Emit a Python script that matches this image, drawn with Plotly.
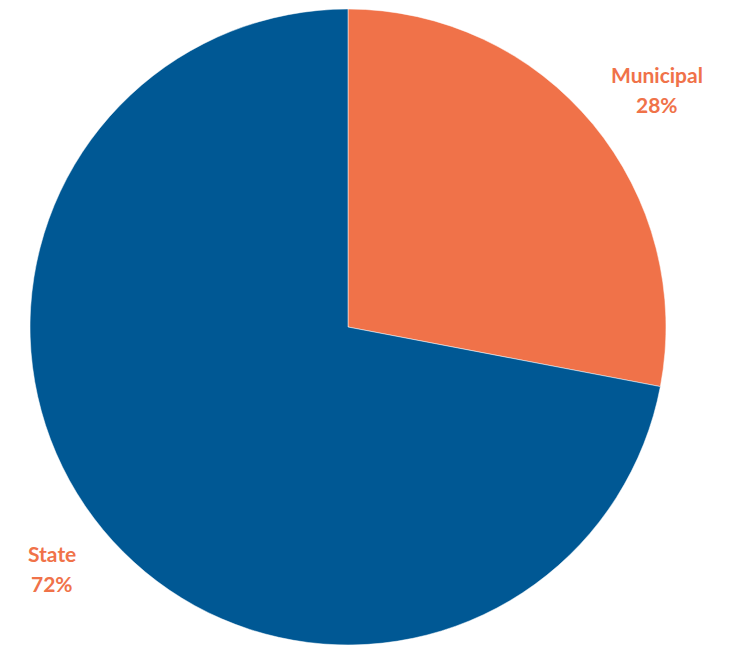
import plotly.graph_objects as go

labels = ["Municipal", "State"]
values = [28, 72]
colors = ["#F07249", "#005894"]

W, H = 746, 647
cx, cy, r = 348, 327, 318

fig = go.Figure(go.Pie(
    labels=labels, values=values, sort=False, direction="clockwise", rotation=0,
    marker=dict(colors=colors, line=dict(color="white", width=0.5)),
    textinfo="none", hoverinfo="label+percent", showlegend=False,
    domain=dict(x=[(cx - r) / W, (cx + r) / W], y=[(H - cy - r) / H, (H - cy + r) / H]),
))

label_pos = [(657, 74), (52, 553)]
for lab, val, (x, y) in zip(labels, values, label_pos):
    for i, t in enumerate([lab, f"{val}%"]):
        fig.add_annotation(
            x=x / W, y=1 - (y + 30 * i) / H, xref="paper", yref="paper",
            xanchor="center", yanchor="middle",
            text=f"<b>{t}</b>", showarrow=False,
            font=dict(family="Lato", size=21, color="#F07249"),
        )

fig.update_layout(width=W, height=H, margin=dict(l=0, r=0, t=0, b=0),
                  paper_bgcolor="white", plot_bgcolor="white")
fig.write_html("out.html")
